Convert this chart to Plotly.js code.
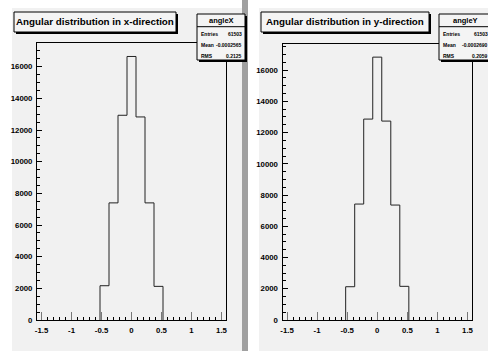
<!DOCTYPE html>
<html>
<head>
<meta charset="utf-8">
<script src="https://cdn.plot.ly/plotly-3.0.1.min.js"></script>
<style>
  html, body { margin: 0; padding: 0; background: #ffffff; }
  #chart { width: 488px; height: 351px; }
</style>
</head>
<body>
<div id="chart"></div>
<script>
// Histogram binning shared by both pads (bin centres, width)
const binCenters = [-0.45, -0.30, -0.15, 0.0, 0.15, 0.30, 0.45];
const binWidth = 0.15;
const xRange = [-1.575, 1.575];

// Bin contents
const countsX = [2165, 7400, 12935, 16650, 12830, 7400, 2125];
const countsY = [2131, 7424, 12864, 16830, 12736, 7360, 2155];

// Axis tick labels
const xTickVals = [-1.5, -1, -0.5, 0, 0.5, 1, 1.5];
const xTickText = ['-1.5', '-1', '-0.5', '0', '0.5', '1', '1.5'];

// Titles and statistics boxes
const titles = ['Angular distribution in x-direction', 'Angular distribution in y-direction'];
const statNames = ['angleX', 'angleY'];
const statLabels = ['Entries', 'Mean', 'RMS'];
const statValuesX = ['61503', '-0.0002565', '0.2125'];
const statValuesY = ['61503', '-0.0002690', '0.2059'];

const W = 488, H = 351;
const fx = v => v / W;
const fy = v => 1 - v / H;
const FONT = 'Liberation Sans, Arial, sans-serif';

// Step outline of a histogram, as ROOT draws it
function stepTrace(counts, xa, ya) {
  const xs = [], ys = [];
  const lo = binCenters[0] - binWidth / 2;
  xs.push(lo); ys.push(0);
  binCenters.forEach((c, i) => { xs.push(c - binWidth / 2); ys.push(counts[i]); });
  const hi = binCenters[binCenters.length - 1] + binWidth / 2;
  xs.push(hi); ys.push(counts[counts.length - 1]);
  xs.push(hi); ys.push(0);
  return {
    type: 'scatter', mode: 'lines', x: xs, y: ys, xaxis: xa, yaxis: ya,
    line: { shape: 'hv', color: '#222222', width: 1 }, hoverinfo: 'skip', showlegend: false
  };
}

const tickFont = { family: FONT, size: 7.8, color: '#000', weight: 'bold' };

function xAxis(domain, anchor) {
  return {
    domain: domain, range: xRange, anchor: anchor,
    tickmode: 'array', tickvals: xTickVals, ticktext: xTickText,
    ticks: 'inside', ticklen: 8, tickwidth: 1, tickcolor: '#777',
    minor: { dtick: 0.1, tick0: 0, ticks: 'inside', ticklen: 3.5, tickcolor: '#000', tickwidth: 1 },
    showline: true, mirror: true, linecolor: '#000', linewidth: 1,
    showgrid: false, zeroline: false, tickfont: tickFont, ticklabelstandoff: 3
  };
}
function yAxis(domain, anchor, maxCount) {
  return {
    domain: domain, range: [0, maxCount * 1.05], anchor: anchor,
    dtick: 2000, tick0: 0, tickformat: 'd',
    ticks: 'inside', ticklen: 5, tickwidth: 1, tickcolor: '#000',
    minor: { dtick: 500, ticks: 'inside', ticklen: 3, tickcolor: '#000', tickwidth: 1 },
    showline: true, mirror: true, linecolor: '#000', linewidth: 1,
    showgrid: false, zeroline: false, tickfont: tickFont, ticklabelstandoff: 2
  };
}

const padFill = '#f1f1f1';
const shapes = [
  // left pad
  { type: 'rect', xref: 'paper', yref: 'paper', x0: fx(12), x1: fx(244), y0: fy(351), y1: fy(8),
    fillcolor: padFill, line: { width: 0 }, layer: 'below' },
  // pad separator
  { type: 'rect', xref: 'paper', yref: 'paper', x0: fx(242), x1: fx(248), y0: fy(351), y1: fy(0),
    fillcolor: '#a0a0a0', line: { width: 0 }, layer: 'below' },
  // right pad
  { type: 'rect', xref: 'paper', yref: 'paper', x0: fx(259), x1: fx(488), y0: fy(351), y1: fy(8),
    fillcolor: padFill, line: { width: 0 }, layer: 'below' }
];
const annotations = [];

function paveBox(x0, y0, x1, y1) {
  // shadow then box
  shapes.push({ type: 'rect', xref: 'paper', yref: 'paper', x0: fx(x0 + 2), x1: fx(x1 + 2), y0: fy(y1 + 2), y1: fy(y0 + 2),
    fillcolor: '#000', line: { width: 0 }, layer: 'above' });
  shapes.push({ type: 'rect', xref: 'paper', yref: 'paper', x0: fx(x0), x1: fx(x1), y0: fy(y1), y1: fy(y0),
    fillcolor: '#f4f4f4', line: { color: '#000', width: 1 }, layer: 'above' });
}

function titleBox(text, x0, y0, x1, y1) {
  paveBox(x0, y0, x1, y1);
  annotations.push({ xref: 'paper', yref: 'paper', x: fx((x0 + x1) / 2), y: fy((y0 + y1) / 2),
    xanchor: 'center', yanchor: 'middle', showarrow: false, text: text,
    font: { family: FONT, size: 9.8, color: '#000', weight: 'bold' } });
}

function statsBox(name, values, x0, y0, x1, y1) {
  paveBox(x0, y0, x1, y1);
  const hy = y0 + 12.7;
  shapes.push({ type: 'line', xref: 'paper', yref: 'paper', x0: fx(x0), x1: fx(x1), y0: fy(hy), y1: fy(hy),
    line: { color: '#000', width: 1 }, layer: 'above' });
  annotations.push({ xref: 'paper', yref: 'paper', x: fx((x0 + x1) / 2), y: fy(y0 + 6.5),
    xanchor: 'center', yanchor: 'middle', showarrow: false, text: name,
    font: { family: FONT, size: 7.5, color: '#000', weight: 'bold' } });
  const rows = [y0 + 19.5, y0 + 31, y0 + 42];
  statLabels.forEach((lab, i) => {
    annotations.push({ xref: 'paper', yref: 'paper', x: fx(x0 + 2), y: fy(rows[i]),
      xanchor: 'left', yanchor: 'middle', showarrow: false, text: lab,
      font: { family: FONT, size: 5, color: '#000', weight: 'bold' } });
    annotations.push({ xref: 'paper', yref: 'paper', x: fx(x1 - 1.5), y: fy(rows[i]),
      xanchor: 'right', yanchor: 'middle', showarrow: false, text: values[i],
      font: { family: FONT, size: 5, color: '#000', weight: 'bold' } });
  });
}

titleBox(titles[0], 14, 12, 176, 32);
statsBox(statNames[0], statValuesX, 197, 14, 245, 60);
titleBox(titles[1], 261, 12, 429, 32);
statsBox(statNames[1], statValuesY, 439, 14, 491, 60);

const layout = {
  width: W, height: H,
  margin: { l: 0, r: 0, t: 0, b: 0 },
  paper_bgcolor: '#ffffff', plot_bgcolor: 'rgba(0,0,0,0)',
  showlegend: false,
  xaxis: xAxis([fx(37), fx(226)], 'y'),
  yaxis: yAxis([fy(320), fy(43.3)], 'x', Math.max(...countsX)),
  xaxis2: xAxis([fx(282.5), fx(472)], 'y2'),
  yaxis2: yAxis([fy(320), fy(44)], 'x2', Math.max(...countsY)),
  shapes: shapes, annotations: annotations
};

Plotly.newPlot('chart', [stepTrace(countsX, 'x', 'y'), stepTrace(countsY, 'x2', 'y2')], layout,
  { displayModeBar: false, staticPlot: true });
</script>
</body>
</html>
